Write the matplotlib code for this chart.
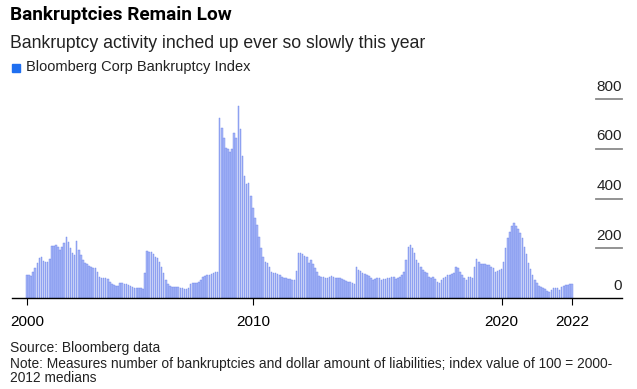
import matplotlib
matplotlib.use("Agg")
import matplotlib.pyplot as plt
from matplotlib.patches import Rectangle

plt.rcParams['font.family'] = ['Liberation Sans', 'DejaVu Sans']

# monthly index values, Dec 2000 .. Nov 2022 (rows of 12 bars)
vals_2001 = [92, 92, 90, 104, 120, 140, 160, 164, 150, 146, 146, 156]
vals_2002 = [208, 210, 212, 204, 192, 205, 220, 244, 224, 200, 180, 172]
vals_2003 = [228, 192, 172, 152, 140, 136, 130, 124, 122, 120, 104, 86]
vals_2004 = [82, 80, 80, 78, 66, 58, 54, 50, 48, 62, 60, 58]
vals_2005 = [56, 54, 50, 44, 42, 42, 40, 40, 38, 100, 190, 186]
vals_2006 = [186, 178, 166, 160, 144, 124, 100, 74, 56, 48, 44, 44]
vals_2007 = [44, 44, 42, 40, 38, 38, 40, 56, 60, 62, 60, 64]
vals_2008 = [72, 84, 88, 92, 92, 96, 100, 104, 106, 725, 685, 645]
vals_2009 = [605, 600, 585, 600, 664, 645, 772, 680, 572, 492, 460, 464]
vals_2010 = [412, 360, 320, 292, 244, 200, 164, 144, 140, 124, 104, 100]
vals_2011 = [100, 96, 92, 84, 80, 80, 76, 76, 74, 74, 108, 180]
vals_2012 = [179, 178, 168, 165, 139, 152, 136, 119, 105, 90, 85, 84]
vals_2013 = [81, 79, 86, 88, 86, 80, 79, 79, 78, 72, 70, 66]
vals_2014 = [65, 59, 56, 125, 112, 110, 99, 96, 92, 88, 81, 72]
vals_2015 = [76, 81, 79, 72, 76, 78, 79, 81, 85, 83, 76, 80]
vals_2016 = [85, 92, 105, 152, 205, 212, 199, 180, 152, 139, 125, 112]
vals_2017 = [105, 99, 85, 81, 83, 76, 65, 61, 72, 79, 85, 92]
vals_2018 = [92, 96, 100, 124, 120, 104, 92, 80, 72, 84, 84, 80]
vals_2019 = [124, 156, 144, 138, 136, 138, 134, 132, 124, 120, 104, 110]
vals_2020 = [112, 118, 144, 200, 240, 264, 290, 300, 290, 276, 260, 240]
vals_2021 = [205, 175, 140, 115, 92, 72, 60, 48, 44, 42, 36, 30]
vals_2022 = [26, 32, 40, 40, 40, 34, 44, 50, 52, 52, 56, 56]

values = (vals_2001 + vals_2002 + vals_2003 + vals_2004 + vals_2005 + vals_2006
          + vals_2007 + vals_2008 + vals_2009 + vals_2010 + vals_2011 + vals_2012
          + vals_2013 + vals_2014 + vals_2015 + vals_2016 + vals_2017 + vals_2018
          + vals_2019 + vals_2020 + vals_2021 + vals_2022)

tick_pos = [0, 109, 229, 263]
tick_labels = ['2000', '2010', '2020', '2022']
y_ticks = [0, 200, 400, 600, 800]

W, H = 637, 389
fig = plt.figure(figsize=(W / 100, H / 100), dpi=100)
ax = fig.add_axes([12 / W, 1 - 298 / H, 610 / W, 199 / H])

x = list(range(len(values)))
ax.bar(x, values, width=0.75, color='#a9b7f7', edgecolor='#6a84ea', linewidth=0.3)

ax.set_xlim(-7.2, 287.1)
ax.set_ylim(0, 800)
for s in ['top', 'right', 'left']:
    ax.spines[s].set_visible(False)
ax.spines['bottom'].set_color('black')
ax.spines['bottom'].set_linewidth(1.0)
ax.set_yticks([])
ax.set_xticks(tick_pos)
ax.set_xticklabels(tick_labels, fontsize=11)
ax.tick_params(axis='x', length=5, width=0.8, color='black', pad=7)

# right-side value labels sitting on short grid stubs
for v in y_ticks:
    ax.text(1.0, v + 22, str(v), transform=ax.get_yaxis_transform(), ha='right',
            va='bottom', fontsize=11, color='#222222')
    if v > 0:
        ax.plot([0.958, 1.0], [v, v], transform=ax.get_yaxis_transform(),
                color='#8a8a8a', lw=1.3, clip_on=False)

fig.text(10 / W, 1 - 6 / H, 'Bankruptcies Remain Low', fontsize=13.7,
         fontweight='bold', va='top', ha='left', family=['Roboto', 'DejaVu Sans'])
fig.text(10 / W, 1 - 35 / H, 'Bankruptcy activity inched up ever so slowly this year',
         fontsize=12.7, va='top', ha='left', color='#222222')
fig.patches.append(Rectangle((12 / W, 1 - 72 / H), 8 / W, 8 / H,
                             transform=fig.transFigure, color='#1f6ff0'))
fig.text(26 / W, 1 - 60 / H, 'Bloomberg Corp Bankruptcy Index', fontsize=10.5,
         va='top', ha='left', color='#222222')

fig.text(10 / W, 1 - 341 / H, 'Source: Bloomberg data', fontsize=10,
         va='top', ha='left', color='#222222')
fig.text(10 / W, 1 - 357 / H,
         'Note: Measures number of bankruptcies and dollar amount of liabilities; index value of 100 = 2000-\n2012 medians',
         fontsize=9.9, va='top', ha='left', color='#222222', linespacing=1.0)

fig.savefig('out.png', dpi=100)
